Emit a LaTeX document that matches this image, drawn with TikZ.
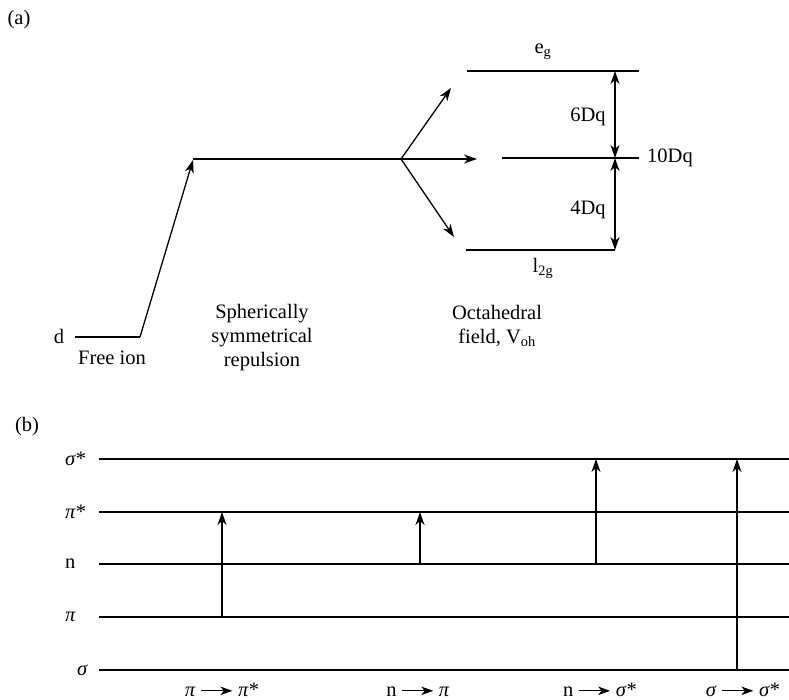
\documentclass[tikz,border=0pt]{standalone}
\usepackage{fontspec}
\setmainfont{Liberation Serif}
\usetikzlibrary{arrows.meta}

% short arrow used inside the transition labels
\newcommand{\trarrow}{\tikz[baseline=-0.55ex]\draw[line width=1.2pt,-{Stealth[length=12pt,width=8.5pt,inset=3.5pt]}] (0pt,0pt) -- (31pt,0pt);}

\begin{document}
\begin{tikzpicture}[x=1pt,y=-1pt,
  font=\fontsize{20.5}{24}\selectfont,
  level/.style={line width=1.3pt},
  tip/.style={line width=1.3pt,-{Stealth[length=13pt,width=9pt,inset=4pt]}},
  dtip/.style={line width=1.3pt,{Stealth[length=13pt,width=9pt,inset=4pt]}-{Stealth[length=13pt,width=9pt,inset=4pt]}},
  lbl/.style={inner sep=0pt}]
\useasboundingbox (0,0) rectangle (789,700);

% ---------------- (a) crystal-field splitting ----------------
\node[lbl] (pa) at (19,20) {(a)};

\coordinate (d1) at (75,337);
\coordinate (d2) at (140,337);
\coordinate (s1) at (193,160);
\coordinate (s2) at (401,159);
\coordinate (up) at (451,88);
\coordinate (mid) at (477,159);
\coordinate (dn) at (454,237);
\coordinate (m1) at (502,158);
\coordinate (m2) at (639,158);
\coordinate (e1) at (467,71);
\coordinate (e2) at (639,71);
\coordinate (t1) at (466,250);
\coordinate (t2) at (615,250);
\coordinate (ve) at (615,71);
\coordinate (vm) at (615,158);

\node[lbl] (dlab) at (59,336) {d};
\node[lbl] (free) at (112,358) {Free ion};
\node[lbl,align=center] (sph) at (262,338) {Spherically\\symmetrical\\repulsion};
\node[lbl,align=center] (oct) at (497,326) {Octahedral\\field, V\textsubscript{oh}};

\draw[level] (d1) -- (d2);
\draw[tip] (d2) -- (s1);
\draw[level] (193,159) -- (s2);
\draw[tip] (s2) -- (up);
\draw[tip] (s2) -- (mid);
\draw[tip] (s2) -- (dn);

\draw[level] (m1) -- (m2);
\draw[level] (e1) -- (e2);
\draw[level] (t1) -- (t2);
\draw[dtip] (ve) -- (vm);
\draw[dtip] (vm) -- (t2);

\node[lbl] (eg) at (543,52) {e\textsubscript{g}};
\node[lbl] (tg) at (543,268) {l\textsubscript{2g}};
\node[lbl] (six) at (588,117) {6Dq};
\node[lbl] (four) at (588,210) {4Dq};
\node[lbl] (ten) at (670,158) {10Dq};

% ---------------- (b) electronic transitions ----------------
\node[lbl] (pb) at (27,427) {(b)};

\foreach \nm/\yy in {sigs/459, pis/512, n/564, pi/617, sig/670}{
  \coordinate (\nm L) at (99,\yy);
  \coordinate (\nm R) at (789,\yy);
  \draw[level] (\nm L) -- (\nm R);
}

\node[lbl,anchor=west] (lsigs) at (65,459) {\textit{σ}*};
\node[lbl,anchor=west] (lpis) at (65,512) {\textit{π}*};
\node[lbl,anchor=west] (ln) at (65,564) {n};
\node[lbl,anchor=west] (lpi) at (65,617) {\textit{π}};
\node[lbl,anchor=west] (lsig) at (77,670) {\textit{σ}};

\coordinate (a1b) at (222,617); \coordinate (a1t) at (222,512);
\coordinate (a2b) at (420,564); \coordinate (a2t) at (420,512);
\coordinate (a3b) at (596,564); \coordinate (a3t) at (596,459);
\coordinate (a4b) at (737,670); \coordinate (a4t) at (737,459);
\draw[tip] (a1b) -- (a1t);
\draw[tip] (a2b) -- (a2t);
\draw[tip] (a3b) -- (a3t);
\draw[tip] (a4b) -- (a4t);

\node[lbl,anchor=base] (t1l) at (222,696) {\textit{π} \trarrow\ \textit{π}*};
\node[lbl,anchor=base] (t2l) at (418,696) {n \trarrow\ \textit{π}};
\node[lbl,anchor=base] (t3l) at (600,696) {n \trarrow\ \textit{σ}*};
\node[lbl,anchor=base] (t4l) at (743,696) {\textit{σ} \trarrow\ \textit{σ}*};
\end{tikzpicture}
\end{document}
